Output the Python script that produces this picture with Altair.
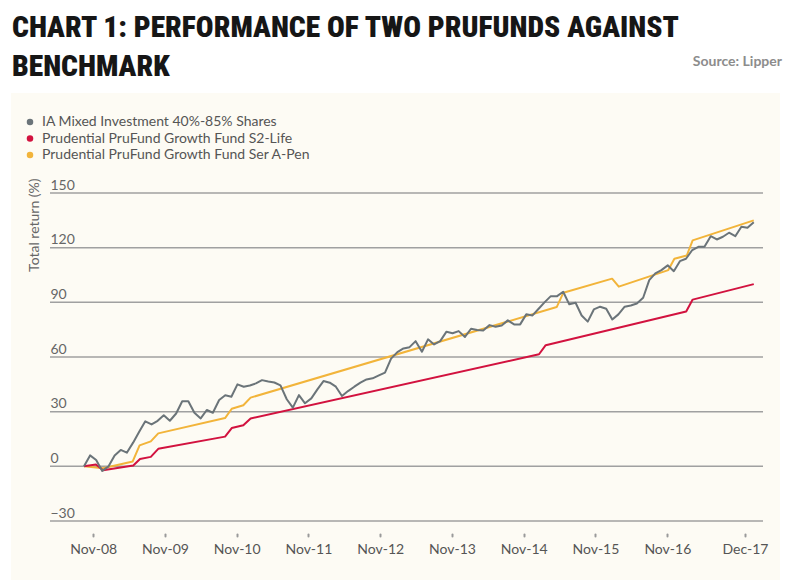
import altair as alt
import pandas as pd

# ---------------- data ----------------
series_names = [
    "IA Mixed Investment 40%-85% Shares",
    "Prudential PruFund Growth Fund S2-Life",
    "Prudential PruFund Growth Fund Ser A-Pen",
]
series_colors = ["#6b7479", "#d2123f", "#f2b43a"]

# IA sector average: evenly spaced readings between these two dates
ia_start = "2008-09-15"
ia_end = "2018-01-15"
ia_values = [
    0, 6, 3.5, -2.5, 0, 6, 9, 7.5, 13, 19,
    24.7, 23, 25, 28, 25, 29, 35.7, 35.7, 29.4, 26.3,
    30.9, 29.4, 36.4, 39, 38.2, 45, 43.7, 44.4, 45.5, 47.3,
    46.6, 46, 44.4, 36.8, 32.2, 39.1, 34.6, 37.3, 42.2, 46.8,
    45.9, 43.7, 38.6, 41.3, 43.7, 45.9, 47.7, 48.3, 49.9, 51.4,
    59.1, 62.7, 64.7, 65.4, 68.7, 62.9, 69.7, 66.9, 68.7, 73.9,
    73, 74.2, 71, 75.5, 74.8, 74.6, 77.5, 76.6, 77.3, 80.1,
    77.9, 77.9, 83.4, 82.8, 86.5, 90.1, 93.4, 93.4, 95.8, 88.9,
    89.8, 82.8, 79.4, 86.1, 87.6, 86.5, 80.6, 83.4, 87.6, 88.3,
    89.4, 92.5, 102.2, 105.9, 107.7, 110.3, 107.1, 112.6, 113.9, 118.7,
    120.5, 120.5, 126.3, 124.5, 126, 128.2, 126.3, 131.5, 130.9, 134,
]

# PruFund S2-Life (smoothed fund: straight runs between these readings)
s2_dates = [
    "2008-09-15", "2008-11-15", "2008-12-21", "2009-05-24", "2009-06-27",
    "2009-08-21", "2009-09-28", "2010-09-03", "2010-10-07", "2010-12-05",
    "2011-01-11", "2015-01-18", "2015-02-21", "2017-02-05", "2017-03-10",
    "2018-01-15",
]
s2_values = [0, 1, -2.2, 0.5, 4, 5.2, 9.6, 16.3, 21, 22.5,
             26.3, 61.5, 66.5, 85, 91.5, 100]

# PruFund Ser A-Pen
sera_dates = [
    "2008-09-15", "2008-12-21", "2009-05-21", "2009-06-25", "2009-08-21",
    "2009-09-28", "2010-09-03", "2010-10-07", "2010-12-05", "2011-01-11",
    "2015-04-18", "2015-05-22", "2016-01-25", "2016-02-28", "2016-11-06",
    "2016-12-07", "2017-02-08", "2017-03-10", "2018-01-15",
]
sera_values = [0, -1, 2.7, 11.5, 13.7, 18.1, 26.5, 31.6, 33.5, 37.7,
               87.4, 95.3, 103, 98.6, 107.7, 113.9, 115.7, 124, 135]

tick_dates = [(2008, 11), (2009, 11), (2010, 11), (2011, 11), (2012, 11),
              (2013, 11), (2014, 11), (2015, 11), (2016, 11), (2017, 12)]
tick_labels = ["Nov-08", "Nov-09", "Nov-10", "Nov-11", "Nov-12",
               "Nov-13", "Nov-14", "Nov-15", "Nov-16", "Dec-17"]
y_ticks = [-30, 0, 30, 60, 90, 120, 150]

title_lines = ["CHART 1: PERFORMANCE OF TWO PRUFUNDS AGAINST", "BENCHMARK"]
source_text = "Source: Lipper"
y_title = "Total return (%)"

# ---------------- tables ----------------
ia_dates = pd.date_range(ia_start, ia_end, periods=len(ia_values)).strftime("%Y-%m-%d")
df_ia = pd.DataFrame({"date": list(ia_dates), "value": ia_values, "series": series_names[0]})
df_s2 = pd.DataFrame({"date": s2_dates, "value": s2_values, "series": series_names[1]})
df_sa = pd.DataFrame({"date": sera_dates, "value": sera_values, "series": series_names[2]})
df_grid = pd.DataFrame({"value": y_ticks})

label_map = ", ".join(
    f"'{y:04d}-{m:02d}': '{lab}'" for (y, m), lab in zip(tick_dates, tick_labels)
)
label_expr = "{" + label_map + "}[timeFormat(datum.value, '%Y-%m')]"

FONT = "Lato"
W, H = 713, 328

x_enc = alt.X(
    "date:T",
    scale=alt.Scale(
        domain=[alt.DateTime(year=2008, month=3, date=26),
                alt.DateTime(year=2018, month=3, date=3)],
        nice=False,
    ),
    axis=alt.Axis(
        values=[alt.DateTime(year=y, month=m, date=1) for (y, m) in tick_dates],
        labelExpr=label_expr,
        title=None,
        domain=False,
        grid=False,
        ticks=True,
        tickSize=2,
        tickWidth=2,
        tickCap="round",
        tickColor="#9a9a9a",
        offset=13,
        labelPadding=6,
        labelFont=FONT,
        labelFontSize=14,
        labelColor="#555555",
        labelFlush=False,
        zindex=1,
    ),
)

y_enc = alt.Y(
    "value:Q",
    scale=alt.Scale(domain=[-30, 150], nice=False, zero=False),
    axis=alt.Axis(
        values=y_ticks,
        title=y_title,
        titleFont=FONT,
        titleFontSize=14,
        titleFontWeight="normal",
        titleColor="#666666",
        titleAngle=270,
        titleAlign="right",
        titleBaseline="middle",
        titleX=-16,
        titleY=-15,
        domain=False,
        ticks=False,
        tickSize=0,
        labelAlign="left",
        labelBaseline="alphabetic",
        labelOffset=-4,
        labelPadding=0,
        labelFont=FONT,
        labelFontSize=14,
        labelColor="#666666",
        grid=False,
        zindex=1,
    ),
)

color_enc = alt.Color(
    "series:N",
    scale=alt.Scale(domain=series_names, range=series_colors),
    legend=alt.Legend(
        title=None,
        orient="none",
        legendX=-27,
        legendY=-78,
        direction="vertical",
        symbolType="circle",
        symbolSize=42,
        symbolStrokeWidth=0,
        symbolOpacity=1,
        labelFont=FONT,
        labelFontSize=14,
        labelColor="#555555",
        labelOffset=5,
        labelLimit=0,
        rowPadding=2.5,
        padding=0,
    ),
)

panel = alt.Chart(pd.DataFrame({"k": [0]})).mark_rect(
    color="#fdfbf4"
).encode(
    x=alt.value(-39), x2=alt.value(730), y=alt.value(-100), y2=alt.value(420)
)

grid = alt.Chart(df_grid).mark_rule(color="#a0a0a0", strokeWidth=1.5).encode(y=y_enc)

# invisible filled points: they only give the legend its solid dots
legend_dots = alt.Chart(df_ia).mark_point(filled=True, opacity=0, size=42).encode(
    x=x_enc, y=y_enc, color=color_enc
)

source = alt.Chart(pd.DataFrame({"t": [source_text]})).mark_text(
    font=FONT, fontSize=14, fontWeight="bold", color="#8c8c8c",
    align="right", baseline="middle",
).encode(text="t:N", x=alt.value(732), y=alt.value(-131))


def line(df):
    return alt.Chart(df).mark_line(strokeWidth=2, strokeJoin="round").encode(
        x=x_enc, y=y_enc, color=color_enc
    )


chart = alt.layer(
    panel, grid, legend_dots, line(df_sa), line(df_s2), line(df_ia), source
).properties(
    width=W,
    height=H,
    autosize=alt.AutoSizeParams(type="none"),
    padding={"left": 42, "top": 185, "right": 29, "bottom": 70},
    background="#ffffff",
    title=alt.TitleParams(
        text=title_lines,
        anchor="start",
        frame="group",
        font="Roboto Condensed, Noto Sans Condensed, Roboto, sans-serif",
        fontSize=29.5,
        fontWeight=900,
        color="#161616",
        lineHeight=39,
        dx=-38,
        offset=-27,
    ),
).configure_view(stroke=None)

chart.save("out.html", embed_options={"renderer": "svg", "actions": False})
